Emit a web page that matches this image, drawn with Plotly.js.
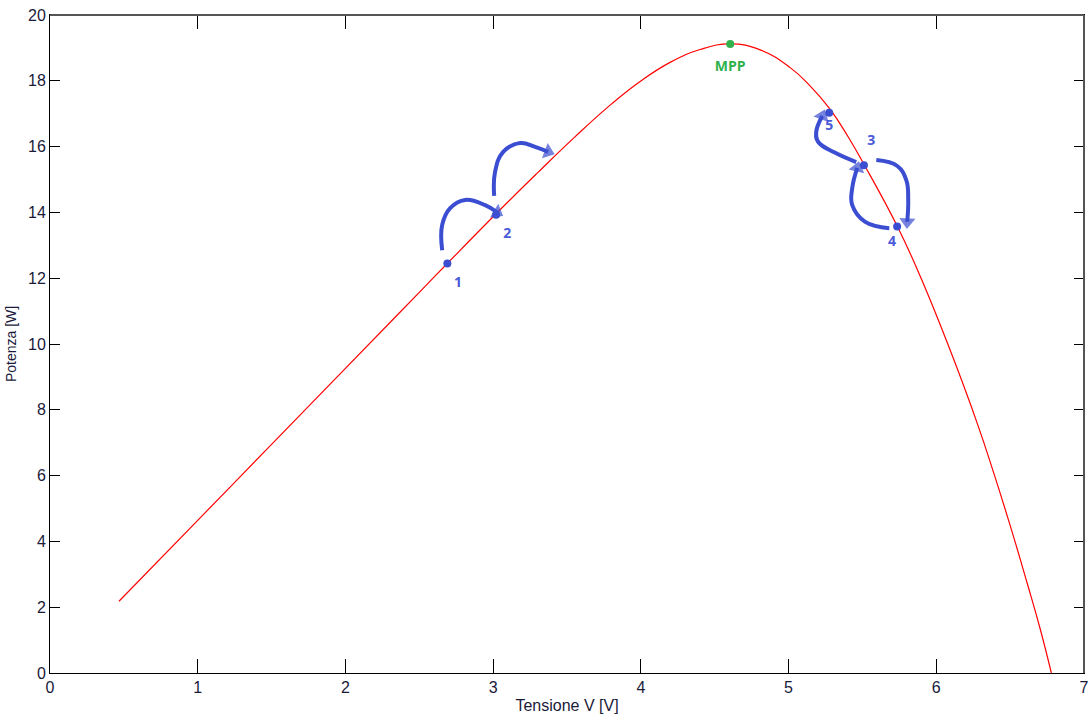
<!DOCTYPE html>
<html>
<head>
<meta charset="utf-8">
<script src="https://cdn.plot.ly/plotly-3.0.1.min.js"></script>
<style>html,body{margin:0;padding:0;background:#fff;}#chart{width:1090px;height:719px;}</style>
</head>
<body>
<div id="chart"></div>
<script>
// P-V curve
var curveV = [0.467, 1.0, 1.5, 2.0, 2.5, 2.688, 3.020, 3.300, 3.550, 3.792, 3.995, 4.198, 4.401, 4.605, 4.808, 5.011, 5.147, 5.282, 5.404, 5.512, 5.736, 5.892, 6.095, 6.278, 6.386, 6.501, 6.616, 6.704, 6.779];
var curveP = [2.18, 4.64, 6.95, 9.26, 11.57, 12.44, 13.96, 15.20, 16.28, 17.26, 17.98, 18.56, 18.95, 19.12, 18.94, 18.40, 17.84, 17.13, 16.29, 15.45, 13.58, 12.05, 9.80, 7.58, 6.12, 4.47, 2.72, 1.33, 0.0];

// operating points
var ptLabels = ['1', '2', '3', '4', '5'];
var ptV = [2.69, 3.02, 5.51, 5.735, 5.275];
var ptP = [12.45, 13.93, 15.43, 13.57, 17.03];
var lblV = [2.763, 3.095, 5.560, 5.701, 5.275];
var lblP = [11.85, 13.34, 16.17, 13.10, 16.60];

// MPP
var mppV = [4.605];
var mppP = [19.12];
var mppLblV = 4.605, mppLblP = 18.39;

// curved arrows
var arrowA_V = [2.655, 2.655, 2.709, 2.810, 2.946, 3.027];
var arrowA_P = [12.85, 13.62, 14.13, 14.38, 14.22, 14.00];
var arrowB_V = [3.007, 3.013, 3.068, 3.183, 3.284, 3.372];
var arrowB_P = [14.50, 15.23, 15.84, 16.11, 15.99, 15.84];
var arrowC_V = [5.458, 5.316, 5.201, 5.187, 5.228];
var arrowC_P = [15.53, 15.81, 16.14, 16.44, 16.93];
var arrowD_V = [5.594, 5.736, 5.797, 5.810, 5.803];
var arrowD_P = [15.59, 15.41, 14.98, 14.38, 13.71];
var arrowE_V = [5.682, 5.519, 5.431, 5.431, 5.465];
var arrowE_P = [13.52, 13.71, 14.22, 14.74, 15.35];

var xTicks = [0, 1, 2, 3, 4, 5, 6, 7];
var yTicks = [0, 2, 4, 6, 8, 10, 12, 14, 16, 18, 20];

var blue = '#3b4ed2';
var blueTxt = '#4a5ad8';
var green = '#2fb14c';

function arrowTrace(xs, ys) {
  var sizes = xs.map(function (_, i) { return i === xs.length - 1 ? 14 : 0; });
  return {
    x: xs, y: ys, mode: 'lines+markers', type: 'scatter',
    line: {color: blue, width: 4, shape: 'spline', smoothing: 1.2},
    marker: {symbol: 'triangle-up', size: sizes, color: blue, angleref: 'previous', line: {width: 0}},
    hoverinfo: 'skip', showlegend: false
  };
}

var traces = [
  {x: curveV, y: curveP, mode: 'lines', type: 'scatter', line: {color: '#ff0000', width: 1.2, shape: 'spline', smoothing: 1.3}, showlegend: false},
  arrowTrace(arrowA_V, arrowA_P),
  arrowTrace(arrowB_V, arrowB_P),
  arrowTrace(arrowC_V, arrowC_P),
  arrowTrace(arrowD_V, arrowD_P),
  arrowTrace(arrowE_V, arrowE_P),
  {x: ptV, y: ptP, mode: 'markers', type: 'scatter', marker: {color: blue, size: 8}, showlegend: false},
  {x: lblV, y: lblP, mode: 'text', type: 'scatter', text: ptLabels, textposition: 'middle center',
   textfont: {family: 'Open Sans, Liberation Sans, sans-serif', size: 14, color: blueTxt, weight: 700}, showlegend: false},
  {x: mppV, y: mppP, mode: 'markers', type: 'scatter', marker: {color: green, size: 8}, showlegend: false},
  {x: [mppLblV], y: [mppLblP], mode: 'text', type: 'scatter', text: ['MPP'], textposition: 'middle center',
   textfont: {family: 'Open Sans, Liberation Sans, sans-serif', size: 14, color: green, weight: 700}, showlegend: false}
];

var tickFont = {family: 'Liberation Sans Narrow, Liberation Sans, Arial, sans-serif', size: 16, color: '#1a1a3a'};

var layout = {
  width: 1090, height: 719,
  margin: {l: 50, r: 6, t: 15, b: 46},
  paper_bgcolor: '#ffffff', plot_bgcolor: '#ffffff',
  xaxis: {
    range: [0, 7], tickvals: xTicks, ticktext: xTicks.map(String),
    ticks: 'inside', ticklen: 14, tickcolor: '#000', tickwidth: 1,
    showline: true, linecolor: '#000', linewidth: 1, mirror: 'ticks',
    showgrid: false, zeroline: false, tickfont: tickFont,
    title: {text: 'Tensione V [V]', font: {family: 'Liberation Sans Narrow, Liberation Sans, Arial, sans-serif', size: 16, color: '#1a1a3a'}, standoff: 4}
  },
  yaxis: {
    range: [0, 20], tickvals: yTicks, ticktext: yTicks.map(String),
    ticks: 'inside', ticklen: 10, tickcolor: '#000', tickwidth: 1,
    showline: true, linecolor: '#000', linewidth: 1, mirror: 'ticks',
    showgrid: false, zeroline: false, tickfont: tickFont,
    title: {text: 'Potenza [W]', font: {family: 'Liberation Sans, Arial, sans-serif', size: 14, color: '#1a1a3a'}, standoff: 8}
  },
  shapes: [
    {type: 'line', xref: 'paper', yref: 'paper', x0: 0, x1: 1, y0: 1, y1: 1, line: {color: '#555', width: 2}},
    {type: 'line', xref: 'paper', yref: 'paper', x0: 1, x1: 1, y0: 0, y1: 1, line: {color: '#555', width: 2}}
  ]
};

Plotly.newPlot('chart', traces, layout, {displayModeBar: false, staticPlot: true});
</script>
</body>
</html>
